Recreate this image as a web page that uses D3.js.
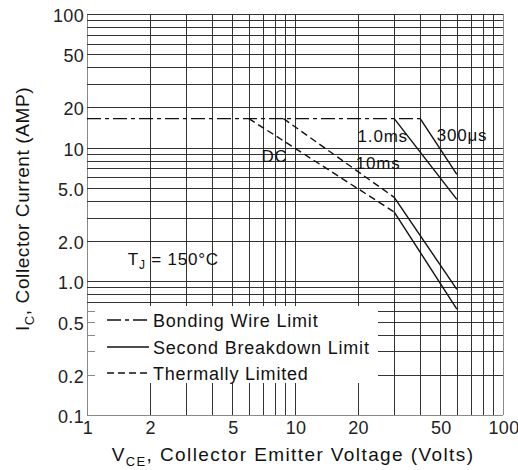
<!DOCTYPE html>
<html>
<head>
<meta charset="utf-8">
<script src="https://cdn.jsdelivr.net/npm/d3@7"></script>
<style>
html,body{margin:0;padding:0;background:#fff;}
svg{display:block;font-family:"Liberation Sans",Arial,Helvetica,sans-serif;}
</style>
</head>
<body>
<svg id="chart" width="518" height="470"></svg>
<script>
// ---- data ----
const xTickValues = [1, 2, 5, 10, 20, 50, 100];
const xTickLabels = ["1", "2", "5", "10", "20", "50", "100"];
const yTickValues = [0.1, 0.2, 0.5, 1, 2, 5, 10, 20, 50, 100];
const yTickLabels = ["0.1", "0.2", "0.5", "1.0", "2.0", "5.0", "10", "20", "50", "100"];

const bondingWire = [[1, 16.5], [40, 16.5]];
const thermalDC = [[6, 16.5], [30, 3.3]];
const breakdownDC = [[30, 3.3], [60, 0.62]];
const thermal10ms = [[8.8, 16.5], [30, 4.25]];
const breakdown10ms = [[30, 4.25], [60, 0.87]];
const breakdown1ms = [[30, 16.5], [60, 4.1]];
const breakdown300us = [[40, 16.5], [60, 6.3]];

const curveLabels = ["1.0ms", "300\u03bcs", "DC", "10ms"];
const curveLabelPos = [[20, 11], [48, 11.2], [6.9, 7.8], [19.6, 6.9]];
const tjPos = [1.57, 1.32];

const legendNames = ["Bonding Wire Limit", "Second Breakdown Limit", "Thermally Limited"];
const legendDash = ["14,4,4,4", null, "7,4"];

// ---- scales ----
const x = d3.scaleLog().domain([1, 100]).range([87, 503]);
const y = d3.scaleLog().domain([0.1, 100]).range([415, 14]);

const svg = d3.select("#chart");
const px = v => Math.round(x(v)) + 0.5;
const py = v => Math.round(y(v)) + 0.5;

// ---- grid ----
const gx = x.ticks();
const gy = y.ticks();
const grid = svg.append("g").attr("stroke", "#333").attr("stroke-width", 1).attr("shape-rendering", "crispEdges");
grid.selectAll("line.v").data(gx).join("line").attr("class", "v")
  .attr("x1", d => px(d)).attr("x2", d => px(d))
  .attr("y1", y(100)).attr("y2", y(0.1))
  .attr("stroke", d => (d === 1 || d === 100) ? "#888" : "#333");
grid.selectAll("line.h").data(gy).join("line").attr("class", "h")
  .attr("y1", d => py(d)).attr("y2", d => py(d))
  .attr("x1", x(1)).attr("x2", x(100))
  .attr("stroke", d => (d === 0.1) ? "#888" : "#333");

// ---- legend box (covers grid) ----
const lg = svg.append("g");
lg.append("rect").attr("x", x(1) + 1).attr("y", 306).attr("width", 290).attr("height", 77).attr("fill", "#fff");
lg.selectAll("line").data(gy.filter(d => d < 0.7 && d > 0.1)).join("line")
  .attr("x1", x(1)).attr("x2", x(1) + 8)
  .attr("y1", d => py(d)).attr("y2", d => py(d))
  .attr("stroke", "#888").attr("shape-rendering", "crispEdges");

// ---- curves ----
const line = d3.line().x(d => x(d[0])).y(d => y(d[1]));
const curves = svg.append("g").attr("fill", "none").attr("stroke", "#111").attr("stroke-width", 1.4);
curves.append("path").attr("d", line(bondingWire)).attr("stroke-dasharray", "14,4,4,4");
curves.append("path").attr("d", line(thermalDC)).attr("stroke-dasharray", "7,4");
curves.append("path").attr("d", line(thermal10ms)).attr("stroke-dasharray", "7,4");
curves.append("path").attr("d", line(breakdownDC));
curves.append("path").attr("d", line(breakdown10ms));
curves.append("path").attr("d", line(breakdown1ms));
curves.append("path").attr("d", line(breakdown300us));

// ---- curve labels ----
svg.append("g").selectAll("text").data(curveLabels).join("text")
  .attr("x", (d, i) => x(curveLabelPos[i][0]))
  .attr("y", (d, i) => y(curveLabelPos[i][1]))
  .attr("font-size", 17).attr("letter-spacing", 0.8).attr("fill", "#111")
  .text(d => d);

const tj = svg.append("text").attr("x", x(tjPos[0])).attr("y", y(tjPos[1]))
  .attr("font-size", 17).attr("letter-spacing", 0.8).attr("fill", "#111");
tj.append("tspan").text("T");
tj.append("tspan").attr("font-size", 12).attr("dy", 4).text("J");
tj.append("tspan").attr("dy", -4).text(" = 150\u00b0C");

// ---- legend ----
const rows = [320, 347, 373];
const lr = lg.selectAll("g.row").data(legendNames).join("g").attr("class", "row");
lr.append("line").attr("x1", 107).attr("x2", 149)
  .attr("y1", (d, i) => rows[i]).attr("y2", (d, i) => rows[i])
  .attr("stroke", "#111").attr("stroke-width", 1.4)
  .attr("stroke-dasharray", (d, i) => legendDash[i]);
lr.append("text").attr("x", 153).attr("y", (d, i) => rows[i] + 7)
  .attr("font-size", 18).attr("letter-spacing", 0.8).attr("fill", "#111")
  .text(d => d);

// ---- tick labels ----
svg.append("g").selectAll("text").data(yTickValues).join("text")
  .attr("x", x(1) - 3).attr("y", d => y(d) + 8)
  .attr("text-anchor", "end").attr("font-size", 18).attr("letter-spacing", 0.3).attr("fill", "#222")
  .text((d, i) => yTickLabels[i]);
svg.append("g").selectAll("text").data(xTickValues).join("text")
  .attr("x", d => x(d) + 1).attr("y", 434)
  .attr("text-anchor", "middle").attr("font-size", 18).attr("letter-spacing", 0.3).attr("fill", "#222")
  .text((d, i) => xTickLabels[i]);

// ---- axis titles ----
const xt = svg.append("text").attr("x", 293).attr("y", 461).attr("text-anchor", "middle")
  .attr("font-size", 19).attr("letter-spacing", 1.4).attr("fill", "#111");
xt.append("tspan").text("V");
xt.append("tspan").attr("font-size", 13).attr("dy", 5).text("CE");
xt.append("tspan").attr("dy", -5).text(", Collector Emitter Voltage (Volts)");

const yt = svg.append("text").attr("transform", "translate(29,209) rotate(-90)").attr("text-anchor", "middle")
  .attr("font-size", 19).attr("letter-spacing", 0.6).attr("fill", "#111");
yt.append("tspan").text("I");
yt.append("tspan").attr("font-size", 13).attr("dy", 5).text("C");
yt.append("tspan").attr("dy", -5).text(", Collector Current (AMP)");
</script>
</body>
</html>
